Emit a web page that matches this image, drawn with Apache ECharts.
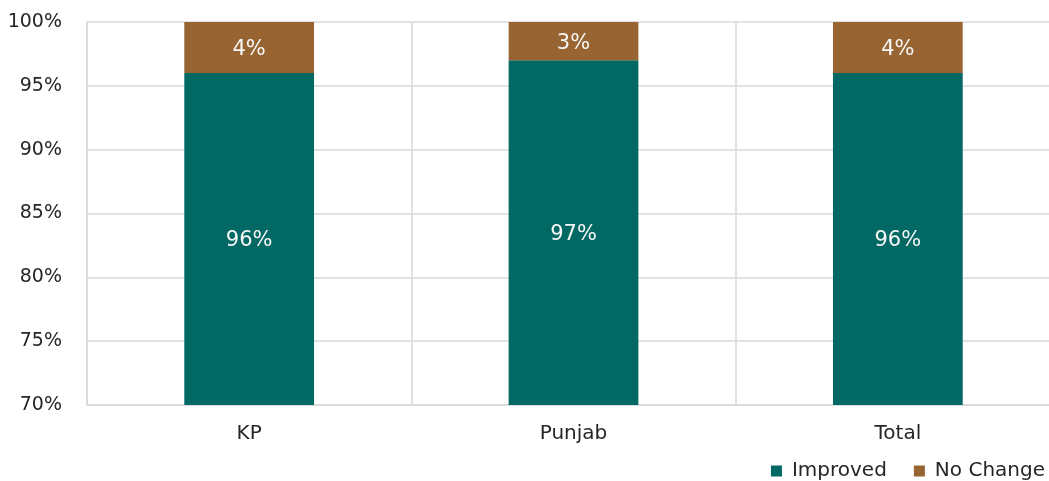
<!DOCTYPE html>
<html>
<head>
<meta charset="utf-8">
<style>
  html, body { margin: 0; padding: 0; background: #ffffff; }
  #chart { width: 1049px; height: 481px; }
</style>
<script src="https://cdn.jsdelivr.net/npm/echarts@6/dist/echarts.min.js"></script>
</head>
<body>
<div id="chart"></div>
<script>
// Share of respondents by region
const categories = ['KP', 'Punjab', 'Total'];
const improved = [96, 97, 96];
const noChange = [4, 3, 4];

const FONT = '"DejaVu Sans", sans-serif';
const TEXT = '#262626';
const GRID = '#d9d9d9';
const chart = echarts.init(document.getElementById('chart'));

const labelStyle = {
  show: true,
  position: 'inside',
  offset: [0, 2],
  color: '#f7f7f7',
  fontSize: 21,
  fontFamily: FONT,
  formatter: p => p.value + '%'
};

chart.setOption({
  animation: false,
  textStyle: { fontFamily: FONT },
  // plot area runs slightly past the right edge of the canvas
  grid: { left: 87, top: 22, width: 973, height: 383, containLabel: false, outerBoundsMode: 'none' },
  legend: {
    right: 4,
    bottom: 0,
    padding: 0,
    itemWidth: 11,
    itemHeight: 11,
    itemGap: 27,
    icon: 'rect',
    textStyle: { color: TEXT, fontSize: 20, fontFamily: FONT, padding: [0, 0, 0, 5] },
    data: ['Improved', 'No Change']
  },
  xAxis: {
    type: 'category',
    data: categories,
    axisLine: { show: true, lineStyle: { color: GRID, width: 1.5 } },
    axisTick: { show: false },
    splitLine: { show: true, lineStyle: { color: GRID, width: 1.5 } },
    axisLabel: { color: TEXT, fontSize: 20, margin: 19, fontFamily: FONT }
  },
  yAxis: {
    type: 'value',
    min: 70,
    max: 100,
    interval: 5,
    axisLine: { show: true, lineStyle: { color: GRID, width: 1.5 } },
    axisTick: { show: false },
    splitLine: { show: true, lineStyle: { color: GRID, width: 1.5 } },
    axisLabel: { color: TEXT, fontSize: 19, margin: 25, fontFamily: FONT, formatter: '{value}%' }
  },
  series: [
    {
      name: 'Improved',
      type: 'bar',
      stack: 'share',
      barWidth: '40%',
      data: improved,
      itemStyle: { color: '#016864' },
      label: labelStyle
    },
    {
      name: 'No Change',
      type: 'bar',
      stack: 'share',
      barWidth: '40%',
      data: noChange,
      itemStyle: { color: '#976432' },
      label: labelStyle
    }
  ]
});
</script>
</body>
</html>
